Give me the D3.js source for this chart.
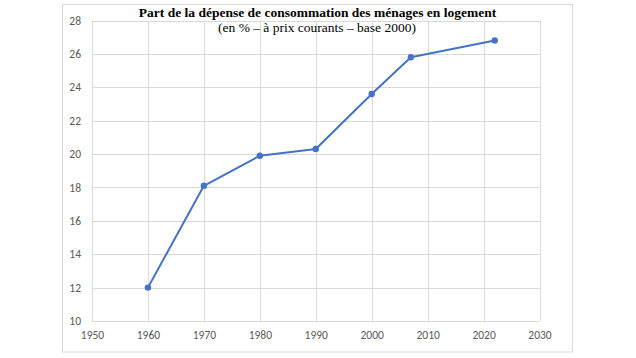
<!DOCTYPE html>
<html><head><meta charset="utf-8">
<script src="https://cdn.jsdelivr.net/npm/d3@7/dist/d3.min.js"></script>
<style>html,body{margin:0;padding:0;background:#fff;}svg{display:block;}</style>
</head><body><svg id="c" width="636" height="358"></svg>
<script>
const years = [1960, 1970, 1980, 1990, 2000, 2007, 2022];
const values = [12.0, 18.1, 19.9, 20.3, 23.6, 25.8, 26.8];
const xTicks = [1950, 1960, 1970, 1980, 1990, 2000, 2010, 2020, 2030];
const yTicks = [10, 12, 14, 16, 18, 20, 22, 24, 26, 28];
const title = "Part de la dépense de consommation des ménages en logement";
const subtitle = "(en % – à prix courants – base 2000)";

const svg = d3.select("#c");
const x = d3.scaleLinear().domain([1950, 2030]).range([92, 539.5]);
const y = d3.scaleLinear().domain([10, 28]).range([321, 20.5]);

// outer chart border
svg.append("rect").attr("x", 62.5).attr("y", 4.5).attr("width", 510).attr("height", 347.5)
  .attr("fill", "none").attr("stroke", "#d9d9d9").attr("stroke-width", 1);

// gridlines
svg.append("g").selectAll("line").data(yTicks).join("line")
  .attr("x1", x(1950)).attr("x2", x(2030))
  .attr("y1", d => Math.round(y(d)) + 0.5).attr("y2", d => Math.round(y(d)) + 0.5)
  .attr("stroke", "#d9d9d9").attr("stroke-width", 1);
svg.append("g").selectAll("line").data(xTicks).join("line")
  .attr("x1", d => Math.round(x(d)) + 0.5).attr("x2", d => Math.round(x(d)) + 0.5)
  .attr("y1", y(10)).attr("y2", y(28))
  .attr("stroke", "#d9d9d9").attr("stroke-width", 1);

// axes labels
const yAxis = d3.axisLeft(y).tickValues(yTicks).tickSize(0).tickPadding(11);
const gy = svg.append("g").attr("transform", `translate(${x(1950)},0)`).call(yAxis);
gy.select(".domain").remove();
gy.selectAll("text").attr("fill", "#595959").style("font-family", "Carlito, Lato, 'Liberation Sans', sans-serif").style("font-size", "11.5px");

const xAxis = d3.axisBottom(x).tickValues(xTicks).tickFormat(d3.format("d")).tickSize(0).tickPadding(10);
const gx = svg.append("g").attr("transform", `translate(0,${y(10)})`).call(xAxis);
gx.select(".domain").remove();
gx.selectAll("text").attr("fill", "#595959").style("font-family", "Carlito, Lato, 'Liberation Sans', sans-serif").style("font-size", "11.5px");

// line
const data = years.map((yr, i) => ({yr, v: values[i]}));
svg.append("path").datum(data)
  .attr("fill", "none").attr("stroke", "#4472C4").attr("stroke-width", 2)
  .attr("stroke-linejoin", "round")
  .attr("d", d3.line().x(d => x(d.yr)).y(d => y(d.v)));
svg.append("g").selectAll("circle").data(data).join("circle")
  .attr("cx", d => x(d.yr)).attr("cy", d => y(d.v)).attr("r", 3.2)
  .attr("fill", "#4472C4");

// titles
svg.append("text").attr("x", 317.5).attr("y", 16.5).attr("text-anchor", "middle")
  .style("font-family", "'Liberation Serif', 'Times New Roman', serif").style("font-weight", "bold")
  .style("font-size", "13.5px").attr("fill", "#000").text(title);
svg.append("text").attr("x", 317).attr("y", 32).attr("text-anchor", "middle")
  .style("font-family", "'Liberation Serif', 'Times New Roman', serif")
  .style("font-size", "13.5px").attr("fill", "#000").text(subtitle);
</script></body></html>
